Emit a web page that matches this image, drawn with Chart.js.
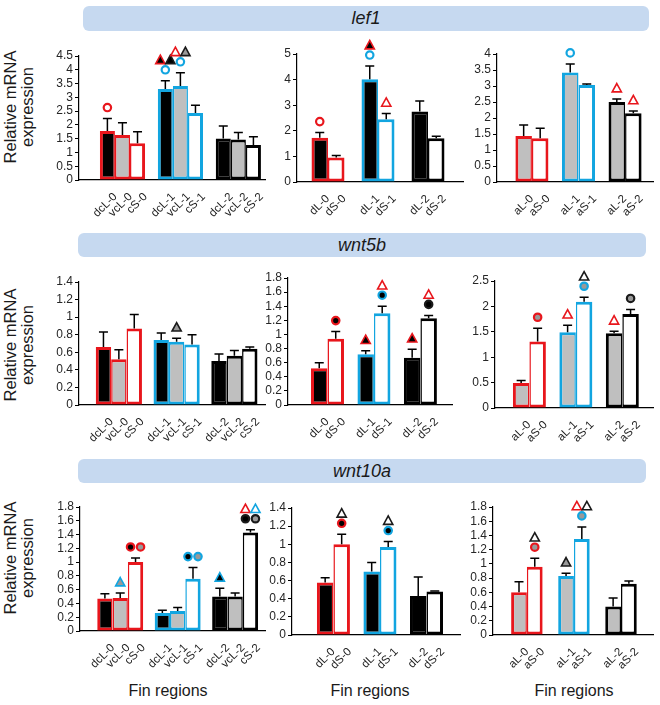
<!DOCTYPE html>
<html>
<head>
<meta charset="utf-8">
<script src="https://cdn.jsdelivr.net/npm/chart.js@4.4.1/dist/chart.umd.min.js"></script>
<style>
body { margin: 0; background: #fff; font-family: "Liberation Sans", Arial, sans-serif; }
#fig { position: relative; width: 660px; height: 705px; overflow: hidden; }
.band { position: absolute; background: #c6d9f0; border-radius: 6px; display: flex; align-items: center; justify-content: center; font-style: italic; font-size: 18px; color: #1a1a1a; }
.ylab { position: absolute; width: 140px; height: 34px; text-align: center; font-size: 16.5px; line-height: 17px; color: #1a1a1a; transform: rotate(-90deg); }
.xlab { position: absolute; width: 120px; text-align: center; font-size: 16px; line-height: 18px; color: #1a1a1a; }
canvas { position: absolute; }
</style>
</head>
<body>
<div id="fig"></div>
<script>
// gene names and bar names
const genes = ['lef1', 'wnt5b', 'wnt10a'];
const regions = ['0', '1', '2'];
const leftBars = ['dcL', 'vcL', 'cS'];
const midBars = ['dL', 'dS'];
const rightBars = ['aL', 'aS'];

// y axis ticks of each panel (row by row)
const yMax = [4.5, 5, 4, 1.4, 1.8, 2.5, 1.8, 1.4, 1.8];
const yStep = [0.5, 1, 0.5, 0.2, 0.2, 0.5, 0.2, 0.2, 0.2];

// means, one row per bar name, one column per region 0,1,2
const lef1L_mean = [[1.78, 3.30, 1.51], [1.63, 3.41, 1.47], [1.33, 2.43, 1.27]];
const lef1L_err = [[0.45, 0.30, 0.45], [0.45, 0.48, 0.25], [0.42, 0.28, 0.30]];
const lef1M_mean = [[1.73, 4.01, 2.75], [0.96, 2.45, 1.71]];
const lef1M_err = [[0.20, 0.52, 0.41], [0.08, 0.23, 0.08]];
const lef1R_mean = [[1.44, 3.42, 2.50], [1.37, 3.03, 2.15]];
const lef1R_err = [[0.34, 0.27, 0.09], [0.31, 0.03, 0.07]];

const wnt5bL_mean = [[0.66, 0.74, 0.50], [0.52, 0.72, 0.56], [0.87, 0.69, 0.64]];
const wnt5bL_err = [[0.17, 0.08, 0.08], [0.11, 0.04, 0.06], [0.16, 0.11, 0.02]];
const wnt5bM_mean = [[0.52, 0.72, 0.67], [0.94, 1.30, 1.23]];
const wnt5bM_err = [[0.08, 0.05, 0.12], [0.10, 0.10, 0.04]];
const wnt5bR_mean = [[0.49, 1.49, 1.47], [1.31, 2.09, 1.85]];
const wnt5bR_err = [[0.05, 0.14, 0.04], [0.26, 0.09, 0.09]];

const wnt10aL_mean = [[0.47, 0.26, 0.50], [0.48, 0.29, 0.50], [1.00, 0.76, 1.43]];
const wnt10aL_err = [[0.07, 0.04, 0.12], [0.07, 0.05, 0.05], [0.06, 0.16, 0.04]];
const wnt10aM_mean = [[0.58, 0.70, 0.43], [1.00, 0.97, 0.48]];
const wnt10aM_err = [[0.05, 0.10, 0.21], [0.11, 0.06, 0.005]];
const wnt10aR_mean = [[0.60, 0.83, 0.40], [0.96, 1.35, 0.72]];
const wnt10aR_err = [[0.15, 0.04, 0.12], [0.12, 0.17, 0.04]];

// significance marks above bars, rows from the bar upwards
// code: shape (c circle, t triangle), outline (R red, B blue, K black), fill (- none, k black, g grey)
const lef1L_marks = { 'dcL-0': [['cR-']], 'dcL-1': [['cB-'], ['tRk', 'tKk']], 'vcL-1': [['cB-'], ['tR-', 'tKg']] };
const lef1M_marks = { 'dL-0': [['cR-']], 'dL-1': [['cB-'], ['tRk']], 'dS-1': [['tR-']] };
const lef1R_marks = { 'aL-1': [['cB-']], 'aL-2': [['tR-']], 'aS-2': [['tR-']] };
const wnt5bL_marks = { 'vcL-1': [['tKg']] };
const wnt5bM_marks = { 'dS-0': [['cRk']], 'dL-1': [['tRk']], 'dS-1': [['cBk'], ['tR-']], 'dL-2': [['tRk']], 'dS-2': [['cKk'], ['tR-']] };
const wnt5bR_marks = { 'aS-0': [['cRg']], 'aL-1': [['tR-']], 'aS-1': [['cBg'], ['tK-']], 'aL-2': [['tR-']], 'aS-2': [['cKg']] };
const wnt10aL_marks = { 'vcL-0': [['tBg']], 'cS-0': [['cRk', 'cRg']], 'cS-1': [['cBk', 'cBg']], 'dcL-2': [['tBk']], 'cS-2': [['cKk', 'cKg'], ['tR-', 'tB-']] };
const wnt10aM_marks = { 'dS-0': [['cRk'], ['tK-']], 'dS-1': [['cBk'], ['tK-']] };
const wnt10aR_marks = { 'aS-0': [['cRg'], ['tK-']], 'aL-1': [['tKg']], 'aS-1': [['cBg'], ['tR-', 'tK-']] };

// colours
const red = '#e8161c';
const blue = '#12a5e0';
const regionColors = [red, blue, '#000'];
const barFill = { dcL: '#000', vcL: '#bfbfbf', cS: '#fff', dL: '#000', dS: '#fff', aL: '#bfbfbf', aS: '#fff' };
const markColor = { R: red, B: blue, K: '#1a1a1a', k: '#000', g: '#999', '-': '#fff' };

// page layout: y axis x, x axis end, top tick y, zero y, x range (group units), category width
const boxes = [
    [79, 265, 56, 180, -0.75, 2.46, 0.78],
    [297, 463, 54, 182, -0.62, 2.70, 0.66],
    [497, 653, 54, 182, -0.75, 2.60, 0.71],
    [79, 265, 282, 405, -0.69, 2.53, 0.80],
    [288, 452, 278, 405, -0.85, 2.68, 0.71],
    [495, 653, 281, 408, -0.74, 2.66, 0.71],
    [80, 265, 507, 631, -0.70, 2.52, 0.80],
    [292, 460, 508, 635, -0.89, 2.72, 0.71],
    [493, 653, 507, 635, -0.72, 2.68, 0.67]
];

const panels = [
    [leftBars, lef1L_mean, lef1L_err, lef1L_marks],
    [midBars, lef1M_mean, lef1M_err, lef1M_marks],
    [rightBars, lef1R_mean, lef1R_err, lef1R_marks],
    [leftBars, wnt5bL_mean, wnt5bL_err, wnt5bL_marks],
    [midBars, wnt5bM_mean, wnt5bM_err, wnt5bM_marks],
    [rightBars, wnt5bR_mean, wnt5bR_err, wnt5bR_marks],
    [leftBars, wnt10aL_mean, wnt10aL_err, wnt10aL_marks],
    [midBars, wnt10aM_mean, wnt10aM_err, wnt10aM_marks],
    [rightBars, wnt10aR_mean, wnt10aR_err, wnt10aR_marks]
];

const fig = document.getElementById('fig');
Chart.defaults.font.family = '"Liberation Sans", Arial, sans-serif';

// title bands, axis titles
const bandBoxes = [[83, 6, 566, 25], [78, 233, 568, 24], [78, 459, 568, 24]];
const ylabY = [107, 345, 558];
genes.forEach((g, r) => {
    const b = document.createElement('div');
    b.className = 'band';
    const [x, y, w, h] = bandBoxes[r];
    b.style.left = x + 'px'; b.style.top = y + 'px';
    b.style.width = w + 'px'; b.style.height = h + 'px';
    b.textContent = g;
    fig.appendChild(b);

    const t = document.createElement('div');
    t.className = 'ylab';
    t.style.left = (19 - 70) + 'px';
    t.style.top = (ylabY[r] - 17) + 'px';
    t.innerHTML = 'Relative mRNA<br>expression';
    fig.appendChild(t);
});
[168, 370, 574].forEach(cx => {
    const t = document.createElement('div');
    t.className = 'xlab';
    t.style.left = (cx - 60) + 'px';
    t.style.top = '682px';
    t.textContent = 'Fin regions';
    fig.appendChild(t);
});

function drawMark(ctx, code, x, y) {
    ctx.save();
    ctx.beginPath();
    if (code[0] === 'c') {
        ctx.arc(x, y, 3.7, 0, 2 * Math.PI);
        ctx.lineWidth = 2.2;
    } else {
        ctx.moveTo(x, y - 4.6);
        ctx.lineTo(x + 4.6, y + 3.8);
        ctx.lineTo(x - 4.6, y + 3.8);
        ctx.closePath();
        ctx.lineWidth = 1.6;
        ctx.lineJoin = 'miter';
    }
    ctx.fillStyle = markColor[code[2]];
    ctx.fill();
    ctx.strokeStyle = markColor[code[1]];
    ctx.stroke();
    ctx.restore();
}

// error bars, rotated bar names and marks
const extras = {
    id: 'extras',
    afterDatasetsDraw(chart) {
        const { ctx } = chart;
        const opt = chart.options.plugins.extras;
        const y = chart.scales.y;
        const zero = y.getPixelForValue(0);
        chart.data.datasets.forEach((ds, k) => {
            chart.getDatasetMeta(k).data.forEach((bar, i) => {
                const top = y.getPixelForValue(ds.data[i].y + opt.err[k][i]);
                ctx.save();
                ctx.strokeStyle = '#000';
                ctx.lineWidth = 1.5;
                ctx.beginPath();
                ctx.moveTo(bar.x, bar.y);
                ctx.lineTo(bar.x, top);
                ctx.moveTo(bar.x - 4.5, top);
                ctx.lineTo(bar.x + 4.5, top);
                ctx.stroke();

                const name = opt.names[k] + '-' + regions[i];
                ctx.translate(bar.x + 8, zero + 15);
                ctx.rotate(-Math.PI / 4);
                ctx.font = '11.5px "Liberation Sans", Arial, sans-serif';
                ctx.fillStyle = '#1a1a1a';
                ctx.textAlign = 'right';
                ctx.textBaseline = 'middle';
                ctx.fillText(name, 0, 0);
                ctx.restore();

                (opt.marks[name] || []).forEach((row, r) => {
                    const cy = top - 11 - r * 10;
                    row.forEach((code, j) => {
                        drawMark(ctx, code, bar.x + (j - (row.length - 1) / 2) * 10, cy);
                    });
                });
            });
        });
    }
};

panels.forEach((p, n) => {
    const [names, mean, err, marks] = p;
    const [ax, aEnd, topY, zeroY, xmin, xmax, catPct] = boxes[n];
    const padTop = 25, yW = 40, xH = 48, padR = 4;
    const cv = document.createElement('canvas');
    const left = ax - yW, top = topY - padTop;
    cv.width = aEnd + padR - left;
    cv.height = zeroY + xH - top;
    cv.style.left = left + 'px';
    cv.style.top = top + 'px';
    fig.appendChild(cv);

    const nb = names.length;
    const datasets = names.map((nm, k) => ({
        label: nm,
        data: mean[k].map((v, i) => ({ x: i, y: v })),
        backgroundColor: barFill[nm],
        borderColor: regionColors,
        borderWidth: {
            top: 3, bottom: 3,
            left: k === 0 ? 3 : 1.5,
            right: k === nb - 1 ? 3 : 1.5
        },
        borderSkipped: false,
        categoryPercentage: catPct,
        barPercentage: 1
    }));

    new Chart(cv, {
        type: 'bar',
        data: { datasets: datasets },
        plugins: [extras],
        options: {
            responsive: false,
            animation: false,
            layout: { padding: { top: padTop, right: padR, left: 0, bottom: 0 } },
            plugins: {
                legend: { display: false },
                tooltip: { enabled: false },
                extras: { names: names, err: err, marks: marks }
            },
            scales: {
                x: {
                    type: 'linear',
                    min: xmin,
                    max: xmax,
                    offset: false,
                    afterBuildTicks: s => { s.ticks = regions.map((_, i) => ({ value: i })); },
                    afterFit: s => { s.height = xH; },
                    ticks: { display: false },
                    grid: { display: false, offset: false },
                    border: { display: true, color: '#000', width: 1.2 }
                },
                y: {
                    min: 0,
                    max: yMax[n],
                    afterFit: s => { s.width = yW; },
                    ticks: {
                        stepSize: yStep[n],
                        autoSkip: false,
                        padding: 2,
                        color: '#262626',
                        font: { size: 12 },
                        callback: v => +v.toFixed(1)
                    },
                    grid: { drawOnChartArea: false, drawTicks: true, tickLength: 4, color: '#000' },
                    border: { display: true, color: '#000', width: 1.2 }
                }
            }
        }
    });
});
</script>
</body>
</html>
